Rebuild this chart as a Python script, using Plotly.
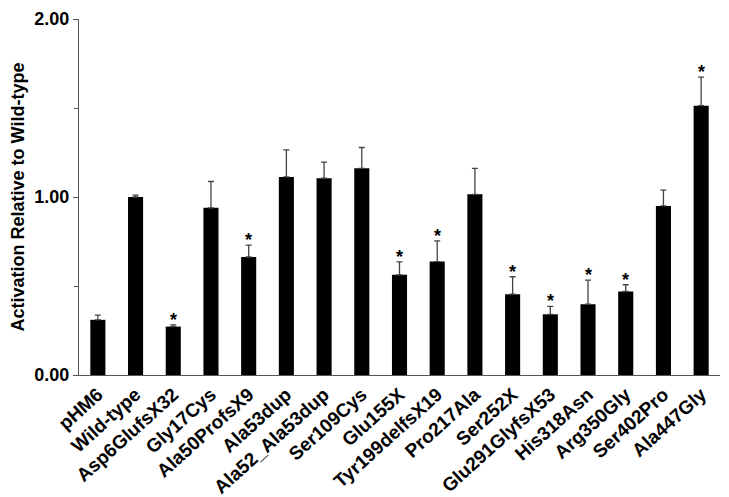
import plotly.graph_objects as go

categories = ["pHM6", "Wild-type", "Asp6GlufsX32", "Gly17Cys", "Ala50ProfsX9", "Ala53dup",
              "Ala52_Ala53dup", "Ser109Cys", "Glu155X", "Tyr199delfsX19", "Pro217Ala",
              "Ser252X", "Glu291GlyfsX53", "His318Asn", "Arg350Gly", "Ser402Pro", "Ala447Gly"]
values = [0.31, 1.00, 0.272, 0.939, 0.663, 1.113, 1.106, 1.161, 0.563, 0.637, 1.015,
          0.454, 0.341, 0.398, 0.469, 0.95, 1.513]
errors = [0.026, 0.011, 0.01, 0.148, 0.067, 0.152, 0.09, 0.117, 0.072, 0.117, 0.146,
          0.098, 0.044, 0.135, 0.038, 0.089, 0.161]
significant = [False, False, True, False, True, False, False, False, True, True, False,
               True, True, True, True, False, True]
y_tick_vals = [0, 1, 2]
y_tick_text = ["0.00", "1.00", "2.00"]

font_family = "Arial, Liberation Sans, sans-serif"

fig = go.Figure()
fig.add_trace(go.Bar(
    x=categories, y=values, width=0.4,
    marker=dict(color="black", line=dict(width=0)),
    error_y=dict(type="data", symmetric=False, array=errors,
                 arrayminus=[0] * len(errors), color="#444444", thickness=1.3, width=3),
))

for c, v, e, s in zip(categories, values, errors, significant):
    if s:
        fig.add_annotation(x=c, y=v + e, text="*", showarrow=False, yanchor="bottom",
                           yshift=-7, font=dict(family=font_family, size=18, color="black",
                                                weight="bold"))

# page body has an 8px default margin, so the figure is 8px smaller and margins shifted
fig.update_layout(
    width=721, height=489,
    margin=dict(l=71, r=9, t=11, b=122),
    plot_bgcolor="white", paper_bgcolor="white",
    showlegend=False,
    font=dict(family=font_family, color="black"),
    xaxis=dict(
        range=[-0.5, 16.5], tickangle=-42, showline=True, linecolor="#555555", linewidth=1.2,
        ticks="", automargin=False, ticklabeloverflow="allow",
        tickfont=dict(family=font_family, size=19, color="black", weight="bold"),
        showgrid=False,
    ),
    yaxis=dict(
        range=[0, 2], tickvals=y_tick_vals, ticktext=y_tick_text, showline=True,
        linecolor="#555555", linewidth=1.2, ticks="outside", ticklen=5, tickcolor="#555555",
        automargin=False, ticklabeloverflow="allow",
        tickfont=dict(family=font_family, size=18, color="black", weight="bold"),
        minor=dict(tickvals=[0.5, 1.5], ticks="outside", ticklen=4, tickcolor="#555555"),
        showgrid=False, zeroline=False,
        title=dict(text="Activation Relative to Wild-type", standoff=14,
                   font=dict(family=font_family, size=18, color="black", weight="bold")),
    ),
)

fig.write_html("out.html")
